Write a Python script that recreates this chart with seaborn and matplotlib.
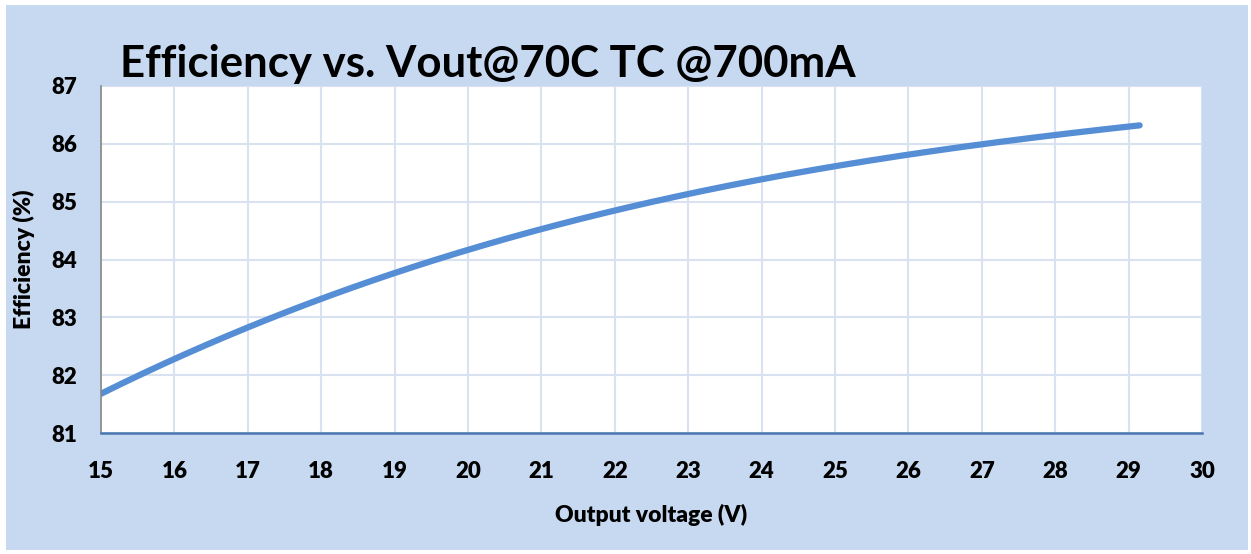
import numpy as np
import pandas as pd
import seaborn as sns
import matplotlib.pyplot as plt
from matplotlib.patches import Rectangle

# values
vout = [15.0, 16.0, 17.0, 18.0, 19.0, 20.0, 21.0, 22.0, 23.0, 24.0, 25.0, 26.0, 27.0, 28.0, 29.15]
efficiency = [81.65, 82.30, 82.85, 83.33, 83.77, 84.15, 84.51, 84.83, 85.13, 85.39, 85.62, 85.83, 86.00, 86.15, 86.31]
x_ticks = list(range(15, 31))
y_ticks = list(range(81, 88))

df = pd.DataFrame({"Output voltage (V)": vout, "Efficiency (%)": efficiency})

sns.set_style("white")
plt.rcParams['font.family'] = ['Lato', 'DejaVu Sans']
plt.rcParams['text.color'] = 'black'
plt.rcParams['axes.labelcolor'] = 'black'
plt.rcParams['xtick.labelcolor'] = 'black'
plt.rcParams['ytick.labelcolor'] = 'black'

fig = plt.figure(figsize=(12.51, 5.54), dpi=100, facecolor="white")
fig.patches.append(Rectangle((6 / 1251, 4 / 554), 1242 / 1251, 545 / 554,
                             transform=fig.transFigure, facecolor="#C6D9F0",
                             edgecolor="none", zorder=-10))
ax = fig.add_axes([101 / 1251, 1 - 433 / 554, 1101 / 1251, 347 / 554])
ax.set_facecolor("white")

# smooth line like the spreadsheet chart
xs = np.linspace(vout[0], vout[-1], 300)
coef = np.polyfit(vout, efficiency, 3)
sns.lineplot(x=xs, y=np.polyval(coef, xs), ax=ax, color="#558ED5", linewidth=4.5,
             solid_capstyle="round")

ax.set_xlim(15, 30)
ax.set_ylim(81, 87)
ax.set_xticks(x_ticks, labels=[str(t) for t in x_ticks], fontweight="heavy", fontsize=16)
ax.set_yticks(y_ticks, labels=[str(t) for t in y_ticks], fontweight="heavy", fontsize=16)
ax.grid(True, color="#D9E2F1", linewidth=1.5)
ax.set_axisbelow(True)

for s in ["top", "right"]:
    ax.spines[s].set_visible(False)
ax.spines["left"].set_color("#888888")
ax.spines["left"].set_linewidth(1.2)
ax.spines["bottom"].set_color("#4A76B0")
ax.spines["bottom"].set_linewidth(1.8)

ax.tick_params(axis="x", direction="in", length=7, width=1.8, color="#4A76B0", pad=20)
ax.tick_params(axis="y", direction="out", length=7, width=1.2, color="#888888", pad=10)

ax.set_xlabel("Output voltage (V)", fontsize=16.5, fontweight="heavy", labelpad=16)
ax.set_ylabel("Efficiency (%)", fontsize=16.5, fontweight="heavy", labelpad=12)

fig.text(120 / 1251, 1 - 64 / 554, "Efficiency vs. Vout@70C TC @700mA",
         fontsize=31.5, fontweight="bold", va="center", ha="left", color="black")

fig.savefig("out.png", dpi=100, facecolor="white")
